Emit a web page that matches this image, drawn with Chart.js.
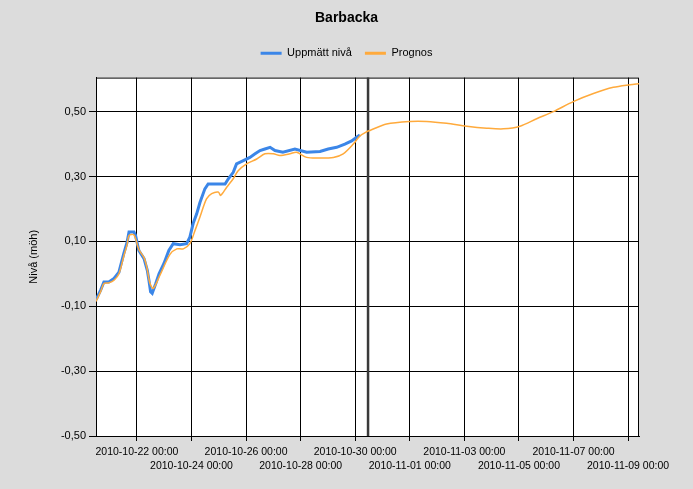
<!DOCTYPE html>
<html>
<head>
<meta charset="utf-8">
<script src="https://cdn.jsdelivr.net/npm/chart.js@4/dist/chart.umd.min.js"></script>
<style>
  body { margin: 0; background: #dcdcdc; }
  #wrap { width: 693px; height: 489px; }
</style>
</head>
<body>
<div id="wrap"><canvas id="levelChart" width="693" height="489"></canvas></div>
<script>
// x values are days counted from 2010-10-22 00:00
const xTickDays = [0, 2, 4, 6, 8, 10, 12, 14, 16, 18];
const xTickLabels = [
    '2010-10-22 00:00', '2010-10-24 00:00', '2010-10-26 00:00', '2010-10-28 00:00',
    '2010-10-30 00:00', '2010-11-01 00:00', '2010-11-03 00:00', '2010-11-05 00:00',
    '2010-11-07 00:00', '2010-11-09 00:00'
];
const yTicks = [-0.5, -0.3, -0.1, 0.1, 0.3, 0.5];
const nowDay = 8.47;

const measuredDays = [
    -1.50, -1.33, -1.21, -1.03, -0.84, -0.66, -0.48, -0.36, -0.29, -0.11, -0.05,
    0.07, 0.26, 0.38, 0.44, 0.50, 0.56, 0.69, 0.81, 0.99, 1.17, 1.33, 1.58, 1.82,
    1.94, 2.06, 2.19, 2.31, 2.49, 2.61, 2.86, 3.23, 3.35, 3.53, 3.65, 3.90, 4.14,
    4.33, 4.51, 4.69, 4.88, 5.06, 5.35, 5.79, 6.22, 6.71, 7.01, 7.32, 7.62, 7.87,
    8.05, 8.17
];
const measuredLevels = [
    -0.080, -0.050, -0.025, -0.025, -0.014, 0.005, 0.063, 0.098, 0.129, 0.129, 0.118,
    0.072, 0.047, 0.011, -0.020, -0.055, -0.060, -0.030, 0.000, 0.032, 0.072, 0.093, 0.090, 0.093,
    0.113, 0.155, 0.185, 0.220, 0.262, 0.277, 0.277, 0.277, 0.293, 0.313, 0.339, 0.349, 0.359,
    0.370, 0.380, 0.385, 0.390, 0.380, 0.375, 0.385, 0.375, 0.377, 0.385, 0.390, 0.400, 0.410,
    0.421, 0.428
];

const forecastDays = [
    -1.50, -1.33, -1.21, -1.03, -0.84, -0.66, -0.48, -0.36, -0.29, -0.11, 0.07,
    0.26, 0.36, 0.48, 0.60, 0.84, 1.21, 1.46, 1.70, 1.94, 2.13, 2.31, 2.55, 2.74,
    2.98, 3.07, 3.29, 3.53, 3.71, 4.02, 4.39, 4.69, 5.00, 5.24, 5.61, 5.85, 6.22,
    6.71, 7.20, 7.56, 7.93, 8.17, 8.42, 8.54, 9.15, 10.01, 10.62, 11.35, 12.09,
    12.82, 13.43, 14.04, 14.65, 15.26, 15.99, 16.73, 17.46, 18.07, 18.40
];
const forecastLevels = [
    -0.085, -0.055, -0.030, -0.028, -0.020, 0.000, 0.055, 0.090, 0.118, 0.120, 0.075,
    0.050, 0.021, -0.030, -0.045, -0.005, 0.060, 0.077, 0.077, 0.093, 0.134, 0.175, 0.231, 0.247,
    0.252, 0.242, 0.267, 0.293, 0.318, 0.339, 0.354, 0.370, 0.370, 0.365, 0.370, 0.375, 0.359,
    0.357, 0.359, 0.370, 0.400, 0.425, 0.438, 0.442, 0.462, 0.470, 0.470, 0.464, 0.455,
    0.449, 0.447, 0.455, 0.478, 0.500, 0.531, 0.556, 0.575, 0.583, 0.586
];

function toPoints(xs, ys) {
    return xs.map(function (x, i) { return { x: x, y: ys[i] }; });
}

// background, white plot area, frame and the "now" line
const framePlugin = {
    id: 'frame',
    beforeDraw: function (chart) {
        const ctx = chart.ctx;
        const a = chart.chartArea;
        ctx.save();
        ctx.fillStyle = '#dcdcdc';
        ctx.fillRect(0, 0, chart.width, chart.height);
        ctx.fillStyle = '#ffffff';
        ctx.fillRect(a.left, a.top, a.right - a.left, a.bottom - a.top);
        ctx.restore();
    },
    beforeDatasetsDraw: function (chart) {
        const ctx = chart.ctx;
        const a = chart.chartArea;
        const x = chart.scales.x.getPixelForValue(nowDay);
        ctx.save();
        ctx.strokeStyle = '#000000';
        ctx.lineWidth = 1;
        ctx.strokeRect(a.left + 0.5, a.top + 0.5, a.right - a.left - 1, a.bottom - a.top);
        ctx.strokeStyle = '#3a3a3a';
        ctx.lineWidth = 2.5;
        ctx.beginPath();
        ctx.moveTo(x, a.top);
        ctx.lineTo(x, a.bottom);
        ctx.stroke();
        ctx.restore();
    }
};

const baseFont = { family: "'Liberation Sans', Arial, sans-serif", size: 11 };

new Chart(document.getElementById('levelChart'), {
    type: 'line',
    data: {
        datasets: [{
            label: 'Uppmätt nivå',
            data: toPoints(measuredDays, measuredLevels),
            borderColor: '#3b86e8',
            backgroundColor: '#3b86e8',
            borderWidth: 3,
            pointRadius: 0,
            tension: 0,
            order: 2
        }, {
            label: 'Prognos',
            data: toPoints(forecastDays, forecastLevels),
            borderColor: '#ffaa3c',
            backgroundColor: '#ffaa3c',
            borderWidth: 1.5,
            pointRadius: 0,
            tension: 0.3,
            order: 1
        }]
    },
    options: {
        responsive: false,
        animation: false,
        layout: { padding: 0 },
        plugins: {
            title: {
                display: true,
                text: 'Barbacka',
                color: '#000000',
                font: { family: baseFont.family, size: 14, weight: 'bold' },
                padding: { top: 10, bottom: 8 }
            },
            // empty spacer between the legend and the plot
            subtitle: {
                display: true,
                text: ' ',
                weight: 500,
                font: { size: 1 },
                padding: { top: 0, bottom: 7.6 }
            },
            legend: {
                position: 'top',
                labels: {
                    color: '#000000',
                    font: baseFont,
                    boxWidth: 21,
                    boxHeight: 3,
                    padding: 13,
                    sort: function (a, b) { return a.datasetIndex - b.datasetIndex; },
                    generateLabels: function (chart) {
                        return Chart.defaults.plugins.legend.labels.generateLabels(chart).map(function (l) {
                            l.lineWidth = 0;
                            return l;
                        });
                    }
                }
            },
            tooltip: { enabled: false }
        },
        scales: {
            x: {
                type: 'linear',
                min: -1.5,
                max: 18.4,
                afterBuildTicks: function (scale) {
                    scale.ticks = xTickDays.map(function (v) { return { value: v }; });
                },
                afterFit: function (scale) { scale.height = 53; },
                grid: { color: '#000000', lineWidth: 1, tickLength: 5, tickColor: '#000000' },
                border: { color: '#000000' },
                ticks: {
                    color: '#000000',
                    font: { family: baseFont.family, size: 10.5, lineHeight: 1.35 },
                    autoSkip: false,
                    maxRotation: 0,
                    padding: 4,
                    callback: function (value, index) {
                        const label = xTickLabels[index];
                        return index % 2 === 0 ? [label, ''] : ['', label];
                    }
                }
            },
            y: {
                min: -0.5,
                max: 0.605,
                afterBuildTicks: function (scale) {
                    scale.ticks = yTicks.map(function (v) { return { value: v }; });
                },
                afterFit: function (scale) { scale.width = 96; },
                grid: { color: '#000000', lineWidth: 1, tickLength: 7, tickColor: '#000000' },
                border: { color: '#000000' },
                title: {
                    display: true,
                    text: 'Nivå (möh)',
                    color: '#000000',
                    font: baseFont,
                    padding: { top: 27, bottom: 0 }
                },
                ticks: {
                    color: '#000000',
                    font: baseFont,
                    padding: 3,
                    callback: function (value) {
                        return value.toFixed(2).replace('.', ',');
                    }
                }
            },
            // blank right-hand margin so the title and legend stay centred on the canvas
            yRight: {
                position: 'right',
                display: true,
                grid: { display: false, drawTicks: false },
                border: { display: false },
                ticks: { display: false },
                afterFit: function (scale) { scale.width = 54; }
            }
        }
    },
    plugins: [framePlugin]
});
</script>
</body>
</html>
